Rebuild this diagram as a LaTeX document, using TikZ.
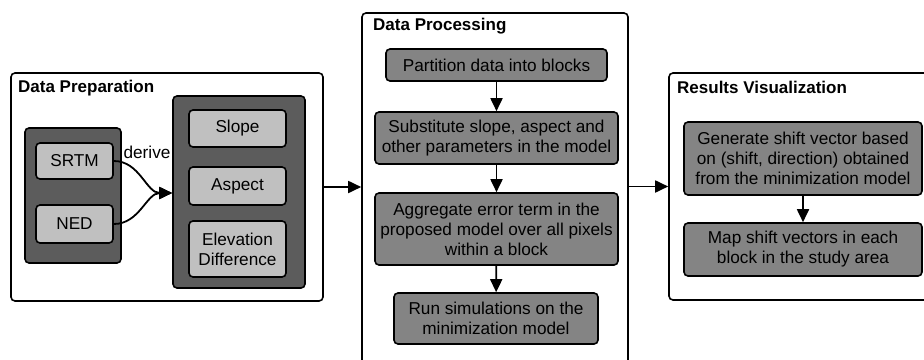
\documentclass[tikz,border=0pt]{standalone}
\usepackage{fontspec}
\setmainfont{Liberation Sans}
\usetikzlibrary{arrows.meta, positioning, calc}

\definecolor{groupgray}{RGB}{92,92,92}
\definecolor{lightgray}{RGB}{192,192,192}
\definecolor{stepgray}{RGB}{132,132,132}

\tikzset{
  panel/.style={draw=black, line width=1.6pt, fill=white, rounded corners=4pt},
  paneltitle/.style={anchor=north west, font=\bfseries\fontsize{17}{20}\selectfont, inner sep=0pt},
  group/.style={draw=black, line width=1.6pt, fill=groupgray, rounded corners=4pt},
  databox/.style={draw=black, line width=1.6pt, fill=lightgray, rounded corners=4pt,
    align=center, font=\fontsize{17.2}{20}\selectfont, inner sep=0pt},
  stepbox/.style={draw=black, line width=1.6pt, fill=stepgray, rounded corners=4pt,
    align=center, font=\fontsize{17.2}{20}\selectfont, inner sep=0pt},
  arr/.style={line width=1.8pt, -{Triangle[length=13pt,width=12pt]}}
}

\begin{document}
\begin{tikzpicture}[x=1pt, y=-1pt]
  \useasboundingbox (0,0) rectangle (924,359);
  \clip (0,0) rectangle (924,359);

  % data preparation
  \node[panel, minimum width=312pt, minimum height=228pt] (prep) at (167,187) {};
  \node[paneltitle] (preptitle) at (18,80) {Data Preparation};

  \node[group, minimum width=96pt, minimum height=135pt] (srcgrp) at (73,195.5) {};
  \node[databox, minimum width=77pt, minimum height=36pt] (srtm) at (74.5,161) {SRTM};
  \node[databox, minimum width=77pt, minimum height=38pt] (ned) at (74.5,224) {NED};

  \node[group, minimum width=132pt, minimum height=192pt] (dergrp) at (239,192) {};
  \node[databox, minimum width=97pt, minimum height=37pt] (slope) at (237.5,128.5) {Slope};
  \node[databox, minimum width=97pt, minimum height=38pt] (aspect) at (237.5,186) {Aspect};
  \node[databox, minimum width=97pt, minimum height=56pt] (elev) at (237.5,249) {Elevation\\Difference};

  \node[font=\fontsize{17.2}{20}\selectfont, inner sep=0pt] (derivelbl) at (147,152) {derive};
  \draw[arr] (srtm.east) to[out=0, in=180] ($(dergrp.west)+(0,1)$);
  \draw[arr] (ned.east) to[out=0, in=180] ($(dergrp.west)+(0,1)$);

  % data processing
  \node[panel, minimum width=266pt, minimum height=370pt] (proc) at (495,198) {};
  \node[paneltitle] (proctitle) at (373,18) {Data Processing};

  \node[stepbox, minimum width=221pt, minimum height=32pt] (partition) at (496.5,65) {Partition data into blocks};
  \node[stepbox, minimum width=243pt, minimum height=52pt] (substitute) at (496.5,138) {Substitute slope, aspect and\\other parameters in the model};
  \node[stepbox, minimum width=243pt, minimum height=72pt] (aggregate) at (496.5,229) {Aggregate error term in the\\proposed model over all pixels\\within a block};
  \node[stepbox, minimum width=204pt, minimum height=51pt] (simulate) at (496,318.5) {Run simulations on the\\minimization model};

  \draw[arr] (partition) -- (substitute);
  \draw[arr] (substitute) -- (aggregate);
  \draw[arr] (aggregate) -- (simulate);

  % results visualization
  \node[panel, minimum width=271pt, minimum height=227pt] (results) at (804.5,186.5) {};
  \node[paneltitle] (restitle) at (677,81) {Results Visualization};

  \node[stepbox, minimum width=238pt, minimum height=73pt] (generate) at (803,158.5) {Generate shift vector based\\on (shift, direction) obtained\\from the minimization model};
  \node[stepbox, minimum width=238pt, minimum height=53pt] (mapvec) at (803,249.5) {Map shift vectors in each\\block in the study area};

  \draw[arr] (generate) -- (mapvec);

  % panel links
  \draw[arr] (prep.east) -- (prep.east -| proc.west);
  \draw[arr] (proc.east |- results.west) -- (results.west);
\end{tikzpicture}
\end{document}
